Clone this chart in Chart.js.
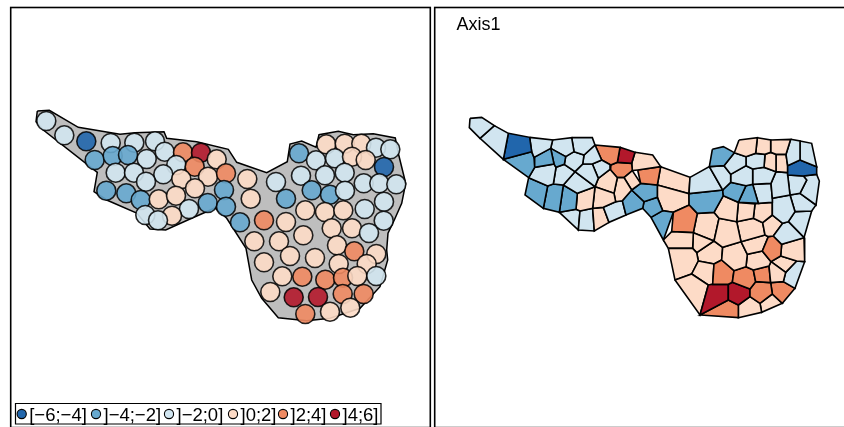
<!DOCTYPE html>
<html><head><meta charset="utf-8">
<script src="https://cdn.jsdelivr.net/npm/chart.js@4/dist/chart.umd.js"></script>
<style>html,body{margin:0;padding:0;background:#fff;overflow:hidden}
canvas{position:absolute;top:0}</style></head>
<body><canvas id="left" width="432" height="427" style="left:0"></canvas><canvas id="right" width="412" height="427" style="left:432px"></canvas>
<script>
const classLabels=["[\u22126;\u22124]","]\u22124;\u22122]","]\u22122;0]","]0;2]","]2;4]","]4;6]"];
const classColors=["#2166ac","#67a9cf","#d1e5f0","#fddbc7","#ef8a62","#b2182b"];
const axisTitle="Axis1";
const outline=[[37.3,111],[49.3,110.3],[78.3,127.3],[120,134.3],[135,132.7],[164,131.7],[166.7,138.3],[196.7,141.7],[228.3,149.3],[236.7,162.3],[266.7,172.7],[287.3,161.7],[290,144],[301.7,141],[316,147.3],[319,134.7],[338.3,131.3],[353.3,134.7],[373.3,133.7],[395.3,138],[398.3,153.3],[405.7,183.3],[401.7,203.3],[394.3,220],[388,233.3],[386.7,250],[387.7,260],[380,286.7],[360,308.3],[330,318.3],[306.7,320.7],[278.3,317.7],[261.7,298.3],[251.7,280],[246,248.3],[226.7,218.3],[215,208],[190,219],[165.7,230],[150,229],[136.7,213],[106.7,200],[94,191.7],[97.3,172.3],[43.3,130],[36,121.7],[37.3,111]];
const siteX=[46.3,64.3,86.3,110.7,134.3,155,94.7,112.7,128,146.7,164.7,183,201,216.7,176.3,194.7,115.7,134,163.3,181.3,208,226,146,195,106.3,126.3,140.7,158.7,176,224,207.7,189,226,145.3,172,158,247.3,250.7,276,286,240,264,286,305.3,299,316,301,325,311.7,330,326.3,344.7,361.3,376,390.3,335,352,365.7,384,344.7,345,363.7,379.3,396.3,384,383.7,364.7,325,343.3,331.7,352,369,254.3,279,303.3,337,354.3,376.3,264,290,315,338.7,366.7,282.3,302.3,325.3,343,357.3,376.3,270.3,293.7,318,342.7,363.7,350.3,330,305.3];
const siteY=[121,135.3,141.3,143,142.7,141.3,160,156,155,159,151.7,152.3,152.7,159.3,165,166.7,172.7,172.7,174.3,179,176.7,173.3,181.7,188.3,190.7,193.3,200,199.3,195.7,190,203,209,206.7,215,215.7,220.3,179,198.7,182,198.7,222.3,220.3,222,210.3,153.3,160.3,175.7,175.3,190.3,194.7,144.3,143.7,143.7,147.7,149.3,158.3,156.7,160,167,172.7,190.7,183.3,183.3,184.3,201.7,220.7,209,212,210.3,228.3,228.3,233,241.3,241.3,235.3,245.3,251.3,254,262.3,256,258,264,264,276.3,276.7,279.7,277.7,276,276,292,297.3,297,294,294,307.7,311.7,314];
const siteClass=[2,2,0,2,2,2,1,1,1,2,2,4,5,3,2,4,2,2,2,3,3,4,2,3,1,1,1,3,3,1,1,2,1,2,3,2,3,3,2,1,1,4,3,3,1,2,2,2,1,1,3,3,3,2,2,2,3,3,0,2,2,2,2,2,2,2,2,3,3,3,3,2,3,3,3,3,4,3,3,3,3,3,3,3,4,4,4,3,2,3,5,5,4,4,3,3,4];
const cellClass=[2,2,0,2,1,1,1,2,2,2,2,2,2,2,2,2,1,1,1,3,3,3,3,3,4,5,4,3,4,1,1,2,3,2,2,1,1,
3,3,3,2,2,0,1,2,2,3,3,2,2,2,2,2,2,2,1,1,2,1,2,2,3,3,3,2,2,3,4,3,3,3,3,3,3,3,3,2,4,4,4,4,4,5,5,4,3,3,3,3,3,3,3,4,3,3,3,3];
const cellRings=[
[[-510,-20],[-475,-23],[-437,2],[-480,40],[-512,8]],
[[-437,2],[-395,25],[-410,103],[-480,40]],
[[-395,25],[-331,37],[-325,80],[-410,103]],
[[-331,37],[-262,45],[-268,70],[-318,97],[-325,80]],
[[-410,103],[-325,80],[-318,97],[-316,127],[-334,158]],
[[-318,97],[-268,70],[-258,117],[-316,127]],
[[-268,70],[-223,95],[-227,118],[-252,127],[-258,117]],
[[-262,45],[-205,38],[-198,80],[-223,95],[-268,70]],
[[-205,38],[-143,38],[-135,60],[-168,90],[-198,80]],
[[-198,80],[-168,90],[-172,117],[-195,140],[-227,118],[-223,95]],
[[-135,60],[-115,105],[-143,117],[-172,117],[-168,90]],
[[-172,117],[-143,117],[-125,160],[-135,185],[-195,140]],
[[-115,105],[-88,120],[-90,133],[-125,160],[-143,117]],
[[-334,158],[-316,127],[-258,117],[-252,127],[-260,177],[-277,183]],
[[-252,127],[-227,118],[-195,140],[-230,180],[-260,177]],
[[-195,140],[-135,185],[-188,205],[-230,180]],
[[-334,158],[-277,183],[-290,250],[-345,210]],
[[-277,183],[-260,177],[-230,180],[-242,262],[-290,250]],
[[-230,180],[-188,205],[-192,253],[-242,262]],
[[-188,205],[-135,185],[-142,250],[-180,258],[-192,253]],
[[-135,185],[-78,205],[-73,230],[-110,247],[-142,250]],
[[-135,185],[-125,160],[-90,133],[-68,158],[-78,205]],
[[-68,158],[-48,158],[-25,195],[-53,227],[-73,230],[-78,205]],
[[-48,158],[-23,137],[2,175],[-25,195]],
[[-135,60],[-60,67],[-68,112],[-88,120],[-115,105]],
[[-60,67],[-15,82],[-25,115],[-68,112]],
[[-68,112],[-25,115],[-23,137],[-48,158],[-68,158],[-90,133],[-88,120]],
[[-15,82],[38,90],[62,125],[-7,135],[-23,137],[-25,115]],
[[-7,135],[62,125],[52,180],[2,175]],
[[-25,195],[2,175],[52,180],[52,217],[12,230]],
[[-53,227],[-25,195],[12,230],[8,250],[-42,270]],
[[-110,247],[-73,230],[-53,227],[-42,270],[-93,292]],
[[-142,250],[-110,247],[-93,292],[-137,318]],
[[-180,258],[-142,250],[-137,318],[-185,315]],
[[-242,262],[-192,253],[-180,258],[-185,315]],
[[12,230],[52,217],[68,257],[33,277],[8,250]],
[[33,277],[68,257],[100,262],[70,345]],
[[297,45],[352,38],[347,85],[318,95],[283,83]],
[[352,38],[392,45],[392,82],[375,88],[347,85]],
[[392,45],[452,43],[438,88],[408,88],[392,82]],
[[452,43],[480,48],[480,105],[443,122],[438,88]],
[[480,48],[515,55],[530,125],[480,105]],
[[480,105],[530,125],[530,148],[490,153],[443,150],[443,122]],
[[217,73],[250,65],[283,83],[252,122],[208,125]],
[[283,83],[318,95],[318,122],[272,148],[252,122]],
[[318,95],[347,85],[375,88],[372,127],[338,132],[318,122]],
[[375,88],[392,82],[408,88],[408,140],[372,127]],
[[408,88],[438,88],[443,122],[443,143],[408,140]],
[[208,125],[252,122],[272,148],[272,172],[248,195]],
[[272,148],[318,122],[338,132],[338,178],[318,182],[272,172]],
[[338,132],[372,127],[408,140],[393,175],[338,178]],
[[150,157],[208,125],[248,195],[147,206]],
[[408,140],[443,143],[443,150],[450,210],[397,220],[393,175]],
[[443,150],[490,153],[500,165],[480,205],[450,210]],
[[490,153],[530,148],[538,168],[528,240],[480,205],[500,165]],
[[272,172],[318,182],[295,232],[250,212],[248,195]],
[[318,182],[338,178],[355,235],[295,232]],
[[338,178],[393,175],[397,220],[397,232],[355,235]],
[[147,206],[248,195],[250,212],[222,262],[172,265],[148,240]],
[[397,220],[450,210],[465,260],[445,290],[428,295],[397,270]],
[[450,210],[480,205],[528,240],[515,258],[465,260]],
[[250,212],[295,232],[290,290],[237,280],[222,262]],
[[295,232],[345,237],[340,280],[290,290]],
[[345,237],[355,235],[397,232],[397,270],[368,293],[340,280]],
[[400,333],[428,295],[445,290],[492,338],[425,358]],
[[465,260],[515,258],[492,338],[445,290]],
[[397,270],[428,295],[400,333],[385,335],[375,330],[368,293]],
[[385,335],[400,333],[425,358],[422,393],[393,410],[367,378]],
[[425,358],[492,338],[494,410],[470,408],[422,393]],
[[237,280],[290,290],[303,350],[248,367],[222,348]],
[[290,290],[340,280],[368,293],[375,330],[303,350]],
[[303,350],[375,330],[385,335],[367,378],[322,388]],
[[248,367],[303,350],[322,388],[318,425],[282,437],[245,405]],
[[322,388],[367,378],[393,410],[387,423],[340,435],[318,425]],
[[393,410],[437,442],[430,470],[392,473],[387,423]],
[[393,410],[422,393],[470,408],[437,442]],
[[470,408],[494,410],[465,490],[430,470],[437,442]],
[[340,435],[387,423],[392,473],[347,470]],
[[282,437],[318,425],[340,435],[347,470],[330,492],[277,472]],
[[222,417],[245,405],[282,437],[277,472],[265,478],[218,478]],
[[347,470],[392,473],[397,507],[360,535],[330,515],[330,492]],
[[392,473],[430,470],[465,490],[427,535],[397,507]],
[[265,478],[277,472],[330,492],[330,515],[295,540],[265,525]],
[[205,480],[218,478],[265,478],[265,525],[180,570]],
[[265,525],[295,540],[295,578],[180,570]],
[[295,540],[330,515],[360,535],[365,562],[295,578]],
[[360,535],[397,507],[427,535],[365,562]],
[[105,465],[155,447],[205,480],[180,570]],
[[175,408],[222,417],[218,478],[205,480],[155,447]],
[[85,370],[158,370],[170,383],[175,408],[155,447],[105,465]],
[[70,345],[95,320],[160,323],[158,370],[85,370]],
[[160,323],[222,348],[170,383],[158,370]],
[[100,262],[148,240],[172,265],[160,323],[95,320]],
[[170,383],[222,348],[248,367],[245,405],[222,417],[175,408]],
[[172,265],[222,262],[237,280],[222,348],[160,323]],
[[52,180],[147,206],[148,240],[100,262],[68,257],[52,217]],
[[62,125],[150,157],[147,206],[52,180]]
];
const legendMarkerX=[21.7,96,169,233,283,335];

function rgba(hex,a){const n=parseInt(hex.slice(1),16);return `rgba(${n>>16},${(n>>8)&255},${n&255},${a})`;}
const polyFill={id:'polyFill',beforeDatasetDraw(chart,args){
  const ds=chart.data.datasets[args.index];
  if(!ds.polygonColor)return;
  const pts=args.meta.data,c=chart.ctx;
  c.save();c.beginPath();
  pts.forEach((p,i)=>i?c.lineTo(p.x,p.y):c.moveTo(p.x,p.y));
  c.closePath();c.fillStyle=ds.polygonColor;c.fill();c.restore();
}};
const leftDecor={id:'leftDecor',afterDraw(chart){
  const c=chart.ctx;c.save();
  c.strokeStyle='#000';c.lineWidth=1.6;
  c.strokeRect(10.7,7.5,419.6,420.1);
  c.lineWidth=1.2;c.fillStyle='#fff';
  c.beginPath();c.rect(15.5,403.5,365.5,20.5);c.fill();c.stroke();
  c.font='18.5px "Liberation Sans"';c.textBaseline='alphabetic';
  classLabels.forEach((t,i)=>{
    const x=legendMarkerX[i];
    c.beginPath();c.arc(x,414,4.6,0,Math.PI*2);
    c.fillStyle=classColors[i];c.fill();c.lineWidth=1.1;c.strokeStyle='#000';c.stroke();
    c.fillStyle='#000';c.fillText(t,x+7.5,421.3);
  });
  c.restore();
}};
const rightDecor={id:'rightDecor',afterDraw(chart){
  const c=chart.ctx;c.save();
  c.strokeStyle='#000';c.lineWidth=1.6;
  c.strokeRect(2.7,7.5,440,420.1);
  c.fillStyle='#000';c.font='18px "Liberation Sans"';c.textBaseline='alphabetic';
  c.fillText(axisTitle,24.5,30);
  c.restore();
}};
function opts(xmin,xmax,ymin,ymax){return{responsive:false,animation:false,events:[],
  layout:{padding:0,autoPadding:false},
  plugins:{legend:{display:false},tooltip:{enabled:false},title:{display:false}},
  scales:{x:{type:'linear',display:false,min:xmin,max:xmax},
          y:{type:'linear',display:false,min:ymin,max:ymax,reverse:true}}};}

new Chart(document.getElementById('left'),{type:'scatter',plugins:[polyFill,leftDecor],
 data:{datasets:[
  {label:'sites',data:siteX.map((x,i)=>({x,y:siteY[i]})),pointRadius:9.5,pointBorderWidth:1.6,
   pointBackgroundColor:siteClass.map(k=>rgba(classColors[k],0.9)),pointBorderColor:'rgba(0,0,0,0.85)',showLine:false},
  {label:'outline',data:outline.map(([x,y])=>({x,y})),showLine:true,pointRadius:0,borderColor:'#000',borderWidth:1.5,polygonColor:'#bebebe',tension:0,fill:false}
 ]},options:opts(0,432,0,427)});

new Chart(document.getElementById('right'),{type:'scatter',plugins:[polyFill,rightDecor],
 data:{datasets:cellRings.map((ring,i)=>({label:'cell'+i,
   data:ring.concat([ring[0]]).map(([x,y])=>({x,y})),showLine:true,pointRadius:0,tension:0,
   borderColor:'#000',borderWidth:1.6,fill:false,polygonColor:classColors[cellClass[i]]}))},
 options:opts(-624,612,-375,906)});
</script></body></html>
